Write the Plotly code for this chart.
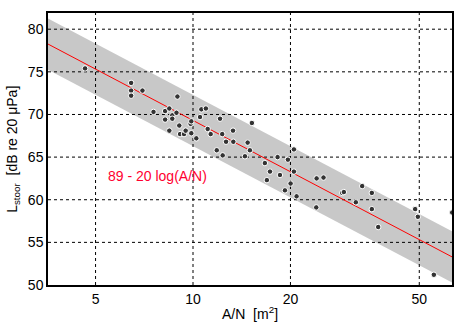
import numpy as np
import plotly.graph_objects as go

# measured data: A/N [m2] and L_stoor [dB]
an = [4.64, 6.44, 6.44, 6.44, 6.98, 7.55, 8.2, 8.2, 8.45, 8.45, 8.63, 8.63, 8.89, 8.95,
      9.07, 9.12, 9.38, 9.49, 9.83, 9.88, 9.88, 10.24, 10.51, 10.61, 10.96, 11.1, 11.34,
      11.84, 12.12, 12.31, 12.35, 12.65, 13.29, 13.32, 14.47, 14.75, 14.99, 15.2, 16.67,
      16.91, 17.29, 18.25, 18.56, 19.23, 19.64, 20.02, 20.5, 20.5, 20.89, 24.03, 24.09,
      25.3, 28.9, 29.24, 31.84, 33.31, 35.68, 35.68, 37.33, 48.55, 49.5, 55.46, 63.2]
lstoor = [75.4, 73.7, 72.8, 72.2, 72.8, 70.3, 70.4, 69.4, 70.7, 68.1, 69.9, 69.5, 70.2, 72.1,
          68.7, 67.7, 67.7, 68.1, 68.9, 67.8, 69.2, 67.2, 69.7, 70.6, 70.7, 68.3, 67.7,
          65.8, 69.5, 67.7, 65.2, 66.8, 68.1, 66.8, 65.1, 66.7, 65.8, 69.0, 64.3,
          62.3, 63.3, 65.0, 62.9, 61.1, 64.7, 61.9, 65.9, 63.3, 60.4, 59.1, 62.5,
          62.6, 60.8, 60.9, 59.7, 61.6, 60.8, 58.9, 56.8, 58.9, 58.0, 51.2, 58.5]

# model line as drawn (~89 - 20 log(A/N)), band +/- 3 dB
intercept = 89.3
slope = 20
band = 3

x_ticks = [5, 10, 20, 50]
y_ticks = [50, 55, 60, 65, 70, 75, 80]
x_range = [np.log10(3.565), np.log10(63.1)]
y_range = [50, 81.9]

xm = np.logspace(x_range[0], x_range[1], 100)
ym = intercept - slope * np.log10(xm)

font = "Liberation Sans, Arial, sans-serif"
fig = go.Figure()

# dashed grid as shapes below the traces
for t in x_ticks:
    fig.add_shape(type="line", xref="x", yref="paper", x0=t, x1=t,
                  y0=0, y1=1, layer="below",
                  line=dict(color="black", width=1, dash="3px,3px"))
for t in y_ticks[1:]:
    fig.add_shape(type="line", xref="paper", yref="y", x0=0, x1=1, y0=t, y1=t,
                  layer="below", line=dict(color="black", width=1, dash="3px,3px"))

# band (translucent so the dashed grid shows through as black)
fig.add_trace(go.Scatter(x=np.concatenate([xm, xm[::-1]]),
                         y=np.concatenate([ym + band, (ym - band)[::-1]]),
                         fill="toself", fillcolor="rgba(0,0,0,0.215)", line=dict(width=0),
                         mode="lines", hoverinfo="skip", showlegend=False))

# model line
fig.add_trace(go.Scatter(x=xm, y=ym, mode="lines", line=dict(color="red", width=1),
                         showlegend=False))

# points
fig.add_trace(go.Scatter(x=an, y=lstoor, mode="markers",
                         marker=dict(color="#333333", size=5.5,
                                     line=dict(color="white", width=1)),
                         showlegend=False))

fig.add_annotation(x=np.log10(7.77), y=62.8, text="89 - 20 log(A/N)", showarrow=False,
                   font=dict(color="#ff0030", size=14, family=font))

# axis titles
fig.add_annotation(xref="paper", yref="paper", x=0.5, y=-0.103, yanchor="middle",
                   text="A/N  [m<sup>2</sup>]", showarrow=False,
                   font=dict(size=14, color="black", family=font))
fig.add_annotation(xref="paper", yref="paper", x=-0.087, y=0.5, xanchor="center",
                   yanchor="middle", textangle=-90,
                   text="L<sub>stoor</sub>  [dB re 20 μPa]", showarrow=False,
                   font=dict(size=14, color="black", family=font))

fig.update_xaxes(type="log", range=x_range, tickvals=x_ticks,
                 ticktext=[str(t) for t in x_ticks], zeroline=False,
                 showline=True, linecolor="black", linewidth=1.5, mirror=True,
                 ticks="", automargin=False, showgrid=False,
                 tickfont=dict(size=14, color="black", family=font))
fig.update_yaxes(range=y_range, tickvals=y_ticks, zeroline=False,
                 showline=True, linecolor="black", linewidth=1.5, mirror=True,
                 ticks="", automargin=False, showgrid=False,
                 tickfont=dict(size=14, color="black", family=font))

fig.update_layout(width=472, height=325, plot_bgcolor="white", paper_bgcolor="white",
                  margin=dict(l=48, r=20, t=13, b=40), showlegend=False)

fig.write_html("out.html", config={"displayModeBar": False},
               post_script="document.body.style.margin='0';")
